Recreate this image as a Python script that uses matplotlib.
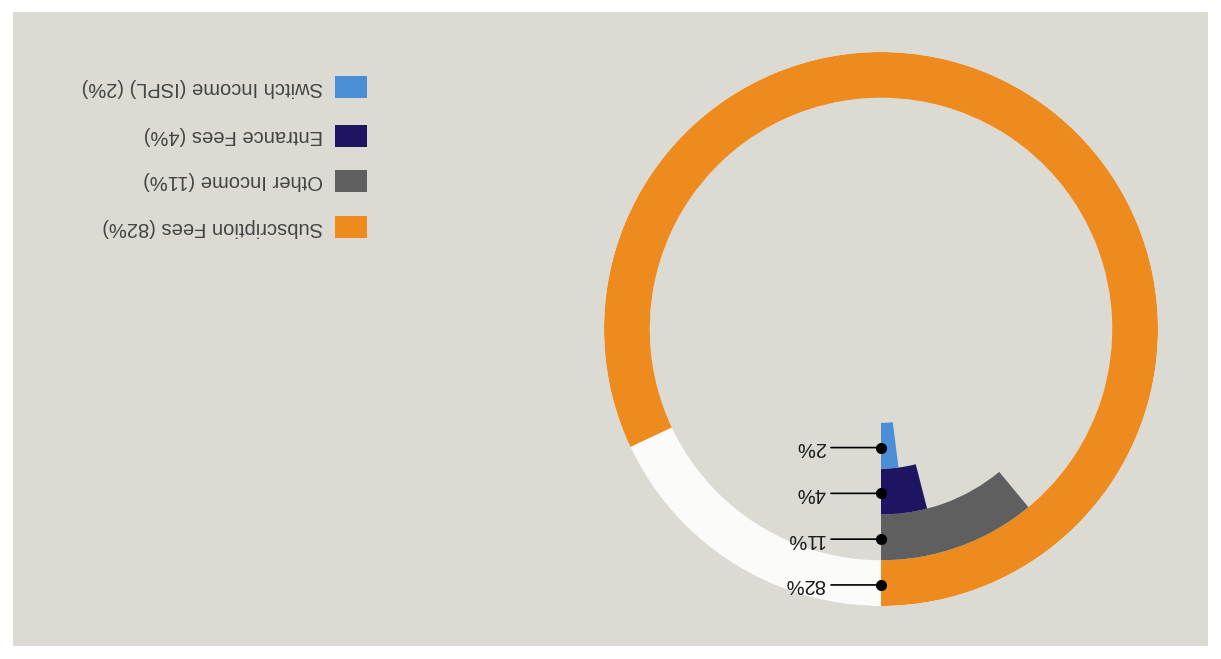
import matplotlib.pyplot as plt
from matplotlib.patches import Rectangle

# =========================
# データ (page is scanned upside down, so everything is drawn rotated 180°)
# =========================
labels = ["Subscription Fees (82%)", "Other Income (11%)", "Entrance Fees (4%)", "Switch Income (ISPL) (2%)"]
values = [82, 11, 4, 2]
value_labels = ["82%", "11%", "4%", "2%"]
colors = ["#ee8b1f", "#5f5f5f", "#1d1462", "#4a8ed6"]

W, H = 1221, 659
fig = plt.figure(figsize=(W / 100, H / 100), dpi=100)
fig.patch.set_facecolor("white")

# paper background
fig.patches.append(Rectangle((13 / W, 1 - 646 / H), (1208 - 13) / W, (646 - 12) / H,
                             transform=fig.transFigure, facecolor="#dbdbd3",
                             edgecolor="none", zorder=-10))

# =========================
# ring chart
# =========================
cx, cy, R = 881, 329, 277
ax = fig.add_axes([(cx - R) / W, 1 - (cy + R) / H, 2 * R / W, 2 * R / H], projection="polar")
ax.set_facecolor("none")
ax.set_theta_zero_location("S")
ax.set_theta_direction(1)

ring_w = 1.0
inner = 2.05
rmax = inner + ring_w * len(values)
ax.set_ylim(0, rmax)

two_pi = 2 * 3.141592653589793
for i, (v, c) in enumerate(zip(values, colors)):
    bottom = inner + ring_w * (len(values) - 1 - i)
    if i == 0:
        # white track behind the outer ring
        ax.bar(0, ring_w, width=two_pi, bottom=bottom, align="edge", color="#fbfbf9", linewidth=0)
    ax.bar(0, ring_w, width=v / 100 * two_pi, bottom=bottom, align="edge", color=c, linewidth=0)

    rmid = bottom + ring_w / 2 + 0.04
    ax.plot([0], [rmid], marker="o", color="black", markersize=7, zorder=5)
    ax.annotate("", xy=(0, rmid), xytext=(-50, 0), textcoords="offset pixels",
                arrowprops=dict(arrowstyle="-", color="black", lw=1.2, shrinkA=0, shrinkB=0))
    ax.annotate(value_labels[i], xy=(0, rmid), xytext=(-56, 0), textcoords="offset pixels",
                rotation=180, rotation_mode="anchor", ha="left", va="center",
                fontsize=14.5, color="#1a1a1a", family="Liberation Sans")

ax.set_xticks([])
ax.set_yticks([])
ax.grid(False)
ax.spines["polar"].set_visible(False)

# =========================
# legend (upside down)
# =========================
leg_y = [227, 181, 136, 87]
for lab, c, y in zip(labels, colors, leg_y):
    fig.patches.append(Rectangle((335 / W, 1 - (y + 11) / H), 32 / W, 22 / H,
                                 transform=fig.transFigure, facecolor=c, edgecolor="none"))
    fig.text(323 / W, 1 - y / H, lab, rotation=180, rotation_mode="anchor",
             ha="left", va="center", fontsize=14.5, color="#444444", family="Liberation Sans")

fig.savefig("out.png", dpi=100, facecolor=fig.get_facecolor())
